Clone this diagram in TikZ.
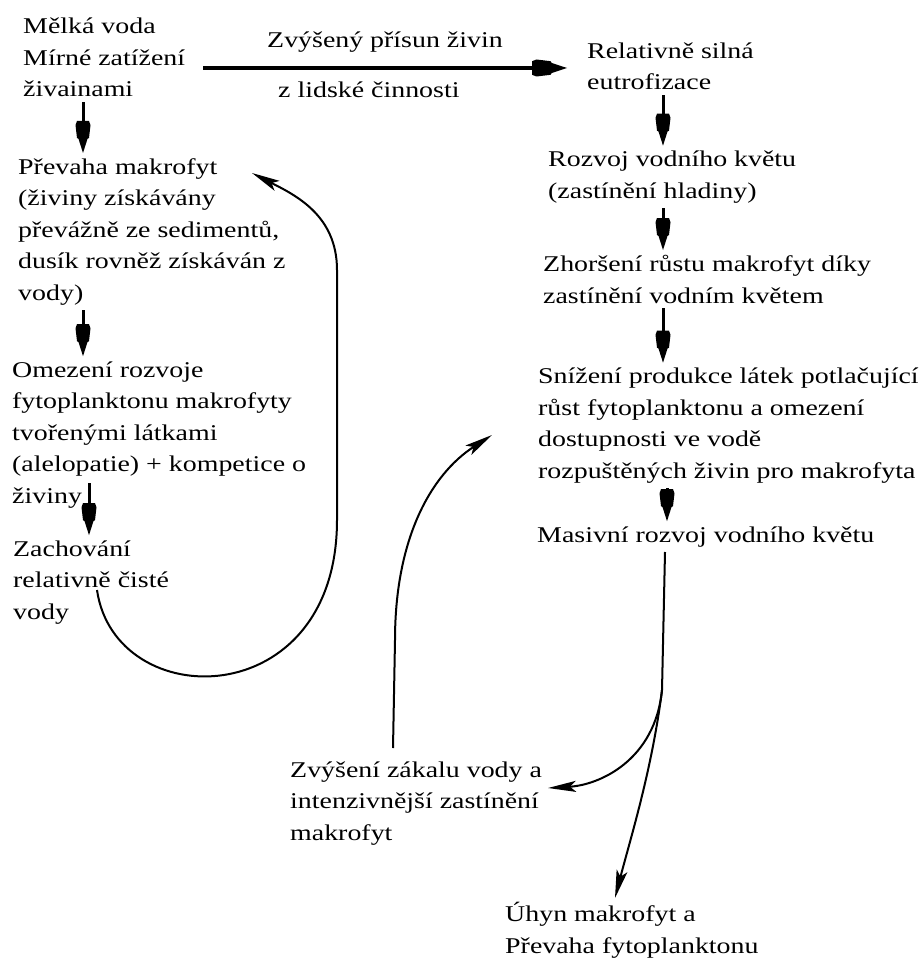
\documentclass[tikz,border=0pt]{standalone}
\usepackage{fontspec}
\setmainfont{Liberation Serif}[FakeStretch=1.24]
\usetikzlibrary{arrows.meta,calc}
\pgfdeclarearrow{
  name = Pencil,
  parameters = {\the\pgfarrowlength,\the\pgfarrowwidth},
  setup code = {
    \pgfarrowssettipend{0pt}
    \pgfarrowssetlineend{-.9\pgfarrowlength}
    \pgfarrowshullpoint{0pt}{0pt}
    \pgfarrowsupperhullpoint{-\pgfarrowlength}{.5\pgfarrowwidth}
    \pgfarrowssavethe\pgfarrowlength
    \pgfarrowssavethe\pgfarrowwidth
  },
  drawing code = {
    \pgfpathmoveto{\pgfpoint{0pt}{0pt}}
    \pgfpathlineto{\pgfpoint{-.44\pgfarrowlength}{.3\pgfarrowwidth}}
    \pgfpathlineto{\pgfpoint{-.47\pgfarrowlength}{.4\pgfarrowwidth}}
    \pgfpathlineto{\pgfpoint{-.87\pgfarrowlength}{.5\pgfarrowwidth}}
    \pgfpathlineto{\pgfpoint{-\pgfarrowlength}{.4\pgfarrowwidth}}
    \pgfpathlineto{\pgfpoint{-\pgfarrowlength}{-.4\pgfarrowwidth}}
    \pgfpathlineto{\pgfpoint{-.87\pgfarrowlength}{-.5\pgfarrowwidth}}
    \pgfpathlineto{\pgfpoint{-.47\pgfarrowlength}{-.4\pgfarrowwidth}}
    \pgfpathlineto{\pgfpoint{-.44\pgfarrowlength}{-.3\pgfarrowwidth}}
    \pgfpathclose
    \pgfusepathqfill
  },
  defaults = {length = 32pt, width = 15pt}
}
\begin{document}
\begin{tikzpicture}[x=1pt,y=-1pt,
  txt/.style={anchor=base west,align=left,inner xsep=0pt,inner ysep=5pt,font=\fontsize{22.5pt}{31.5pt}\selectfont},
  fat/.style={line width=3pt,-{Pencil[length=32pt,width=15pt]}},
  fath/.style={line width=3.3pt,-{Pencil[length=35pt,width=17pt]}},
  thin/.style={line width=2pt,-{Stealth[length=28pt,width=11pt,inset=6pt]}},
  trunk/.style={line width=2pt}]
\useasboundingbox[fill=white] (0,0) rectangle (920,960);
% nodes (anchored at the baseline of their last line)
\node[txt] (A) at (23,97) {Mělká voda\\Mírné zatížení\\živainami};
\node[txt] (B) at (18,300) {Převaha makrofyt\\(živiny získávány\\převážně ze sedimentů,\\dusík rovněž získáván z\\vody)};
\node[txt] (C) at (12,503) {Omezení rozvoje\\fytoplanktonu makrofyty\\tvořenými látkami\\(alelopatie) + kompetice o\\živiny};
\node[txt] (D) at (13,619) {Zachování\\relativně čisté\\vody};
\node[txt] (L1) at (267,48) {Zvýšený přísun živin};
\node[txt] (L2) at (278,98) {z lidské činnosti};
\node[txt] (E) at (587,90) {Relativně silná\\eutrofizace};
\node[txt] (F) at (548,198) {Rozvoj vodního květu\\(zastínění hladiny)};
\node[txt] (G) at (543,303) {Zhoršení růstu makrofyt díky\\zastínění vodním květem};
\node[txt] (H) at (538,478) {Snížení produkce látek potlačující\\růst fytoplanktonu a omezení\\dostupnosti ve vodě\\rozpuštěných živin pro makrofyta};
\node[txt] (I) at (537,542) {Masivní rozvoj vodního květu};
\node[txt] (J) at (290,840) {Zvýšení zákalu vody a\\intenzivnější zastínění\\makrofyt};
\node[txt] (K) at (505,953) {Úhyn makrofyt a\\Převaha fytoplanktonu};
% helper coordinates
\coordinate (xa) at (83,0);
\coordinate (xc) at (89,0);
\coordinate (xr) at (663,0);
\coordinate (xr2) at (667,0);
\coordinate (xs) at (665,0);
\coordinate (yt) at (0,68);
% straight arrows
\draw[fat] (A.south -| xa) -- (B.north -| xa);
\draw[fat] (B.south -| xa) -- (C.north -| xa);
\draw[fat] ($(C.south -| xc)+(0,-30)$) -- (D.north -| xc);
\draw[fath] ($(A.east |- yt)+(18,0)$) -- ($(E.west |- yt)+(-20,0)$);
\draw[fat] (E.south -| xr) -- (F.north -| xr);
\draw[fat] (F.south -| xr) -- (G.north -| xr);
\draw[fat] (G.south -| xr) -- (H.north -| xr);
\draw[fat] (H.south -| xr2) -- (I.north -| xr2);
% loop from D back to B
\draw[thin] ($(D.base west)+(84,-29)$) .. controls (115,715) and (337,715) .. (337,520)
  -- (337,270) .. controls (337,215) and (295,195) .. ($(B.base west)+(234,-127)$);
% from J up towards H
\draw[thin] ($(J.base west)+(103,-92)$) -- (395,640) .. controls (395,540) and (430,475) .. ($(H.base west)+(-46,-43)$);
% split from I
\coordinate (split) at (662,690);
\draw[trunk] (I.south -| xs) -- (split);
\draw[thin] (split) .. controls (655,760) and (600,785) .. ($(J.base west)+(258,-52)$);
\draw[thin] (split) .. controls (652,770) and (630,840) .. ($(K.base west)+(110,-55)$);
\end{tikzpicture}
\end{document}
